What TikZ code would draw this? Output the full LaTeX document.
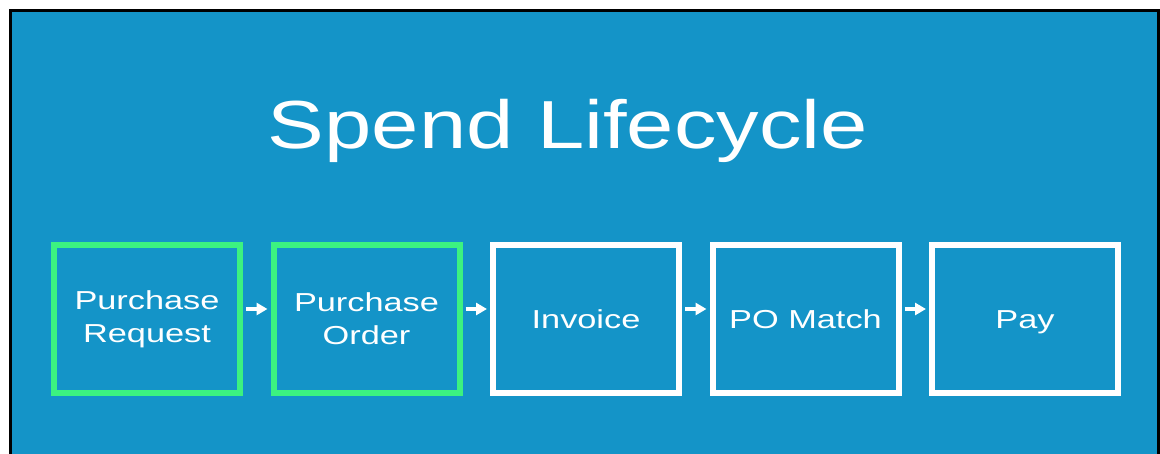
\documentclass[tikz,border=0pt]{standalone}
\usepackage{fontspec}
\usetikzlibrary{arrows.meta}
\newfontfamily\titlefont[FakeStretch=1.25]{Liberation Sans}
\newfontfamily\boxfont[FakeStretch=1.32]{Liberation Sans}
\definecolor{bgblue}{RGB}{20,148,200}
\definecolor{mint}{RGB}{60,242,128}
\tikzset{
  stage/.style={draw=white, line width=6pt, minimum width=186pt, minimum height=148pt,
    inner sep=0pt, align=center, text=white,
    font=\boxfont\fontsize{26}{33}\selectfont},
  oneline/.style={stage, text height=18.6pt, text depth=0pt},
  done/.style={stage, draw=mint},
  flow/.style={draw=white, line width=4pt, -{Triangle[length=11pt,width=12pt]}}
}
\begin{document}
\begin{tikzpicture}[x=1pt,y=-1pt]
\useasboundingbox (0,0) rectangle (1160,453);
\fill[white] (0,0) rectangle (1160,453);
\fill[bgblue] (10.5,10.5) rectangle (1158.5,460);
\draw[black, line width=3pt] (10.5,460) -- (10.5,10.5) -- (1158.5,10.5) -- (1158.5,460);
\node[anchor=base, text=white, font=\titlefont\fontsize{68}{70}\selectfont] (title) at (568,148) {Spend Lifecycle};
\node[done] (pr) at (147,319) {Purchase\\Request};
\node[done] (po) at (366.5,319) {Purchase\\Order};
\node[oneline] (inv) at (586,319) {Invoice};
\node[oneline] (match) at (805.5,319) {PO Match};
\node[oneline] (pay) at (1025,319) {Pay};
\draw[flow] ([yshift=10pt,xshift=3pt]pr.east) -- ([yshift=10pt,xshift=-3pt]po.west);
\draw[flow] ([yshift=10pt,xshift=3pt]po.east) -- ([yshift=10pt,xshift=-3pt]inv.west);
\draw[flow] ([yshift=10pt,xshift=3pt]inv.east) -- ([yshift=10pt,xshift=-3pt]match.west);
\draw[flow] ([yshift=10pt,xshift=3pt]match.east) -- ([yshift=10pt,xshift=-3pt]pay.west);
\end{tikzpicture}
\end{document}
